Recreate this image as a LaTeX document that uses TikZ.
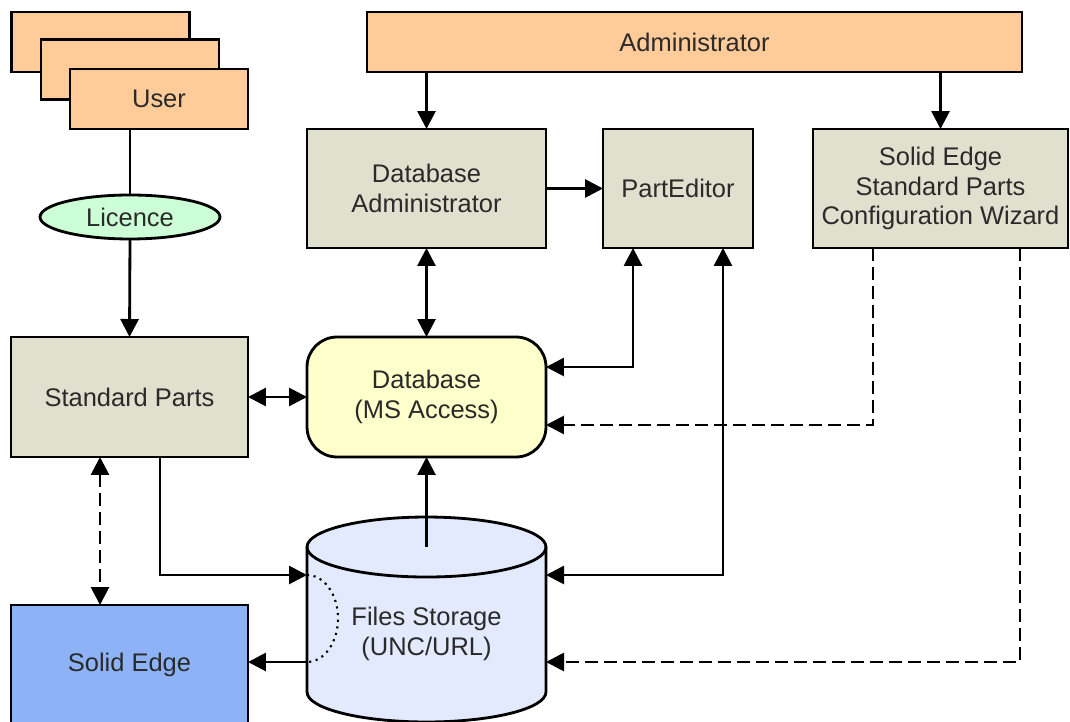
\documentclass[tikz,border=0pt]{standalone}
\usepackage{fontspec}
\setmainfont{Liberation Sans}
\usetikzlibrary{arrows.meta,shapes.geometric}

\definecolor{peach}{HTML}{FFCC99}
\definecolor{boxgray}{HTML}{DFE0CE}
\definecolor{dbyellow}{HTML}{FFFFCC}
\definecolor{licgreen}{HTML}{CCFFD6}
\definecolor{cylblue}{HTML}{E3EAFD}
\definecolor{seblue}{HTML}{8DB3F6}
\definecolor{textgray}{HTML}{2A2A2A}

\begin{document}
\begin{tikzpicture}[x=0.02cm, y=-0.02cm, line width=1.6pt,
  every node/.style={font=\fontsize{14.5}{17}\selectfont, text=textgray, align=center, outer sep=0pt, inner sep=2pt},
  userbox/.style={draw, fill=peach, minimum width=3.56cm, minimum height=1.2cm},
  graybox/.style={draw, fill=boxgray, minimum height=2.38cm},
  conn/.style={-{Triangle[length=0.36cm, width=0.36cm]}},
  biconn/.style={{Triangle[length=0.36cm, width=0.36cm]}-{Triangle[length=0.36cm, width=0.36cm]}},
  dashconn/.style={conn, dash pattern=on 0.26cm off 0.12cm}]
\useasboundingbox (0,0) rectangle (1070,722);

% users and administrator
\node[userbox] (userA) at (100.5,42) {};
\node[userbox] (userB) at (130,69.5) {};
\node[userbox] (user) at (159,99) {User};
\node[userbox, minimum width=13.1cm] (admin) at (694.5,42) {Administrator};
\node[draw, ellipse, fill=licgreen, minimum width=3.6cm, minimum height=0.88cm] (lic) at (130,217) {Licence};

% tools
\node[graybox, minimum width=4.78cm] (dbadmin) at (426.5,188.5) {Database\\Administrator};
\node[graybox, minimum width=3cm] (pe) at (678,188.5) {PartEditor};
\node[graybox, minimum width=5.1cm] (wiz) at (940.5,188.5) {Solid Edge\\Standard Parts\\Configuration Wizard};

% middle row
\node[graybox, minimum width=4.74cm, minimum height=2.4cm] (std) at (129.5,397) {Standard Parts};
\node[draw, fill=dbyellow, rounded corners=0.6cm, minimum width=4.78cm, minimum height=2.4cm] (db) at (426.5,397) {Database\\(MS Access)};

% bottom row
\node[draw, fill=seblue, minimum width=4.74cm, minimum height=2.4cm] (se) at (129.5,665) {Solid Edge};
\node[minimum width=4.78cm, minimum height=2.9cm] (store) at (426.5,619.5) {};
\draw[fill=cylblue] (store.north west) -- (store.south west)
  arc[start angle=180, end angle=360, x radius=2.39cm, y radius=0.6cm] -- (store.north east)
  arc[start angle=0, end angle=180, x radius=2.39cm, y radius=0.6cm] -- cycle;
\draw (store.north west) arc[start angle=180, end angle=360, x radius=2.39cm, y radius=0.6cm];
\node (storelbl) at (426.5,634) {Files Storage\\(UNC/URL)};

\coordinate (inA) at (307,575);
\coordinate (inB) at (546,575);
\coordinate (inC) at (307,662);
\coordinate (inD) at (546,662);
\draw[line width=1.2pt, dash pattern=on 1.2pt off 2.6pt] (inA) arc[start angle=90, end angle=-90, x radius=0.62cm, y radius=0.87cm];

% connectors
\draw (lic.north |- user.south) -- (lic.north);
\draw[conn] (lic.south) -- (std.north);
\draw[conn] (dbadmin.north |- admin.south) -- (dbadmin.north);
\draw[conn] (wiz.north |- admin.south) -- (wiz.north);
\draw[conn] (dbadmin.east) -- (pe.west);
\draw[biconn] (dbadmin.south) -- (db.north);
\draw[biconn] ([xshift=-0.9cm]pe.south) |- ([yshift=0.6cm]db.east);
\draw[biconn] ([xshift=0.9cm]pe.south) |- (inB);
\draw[dashconn] ([xshift=-1.35cm]wiz.south) |- ([yshift=-0.56cm]db.east);
\draw[dashconn] ([xshift=1.59cm]wiz.south) |- (inD);
\draw[biconn] (std.east) -- (db.west);
\draw[conn] ([xshift=0.61cm]std.south) |- (inA);
\draw[biconn, dash pattern=on 0.26cm off 0.12cm] ([xshift=-0.59cm]std.south) -- ([xshift=-0.59cm]se.north);
\draw[conn] (store.north) -- (db.south);
\draw[conn] (inC) -- (se.east |- inC);
\end{tikzpicture}
\end{document}
